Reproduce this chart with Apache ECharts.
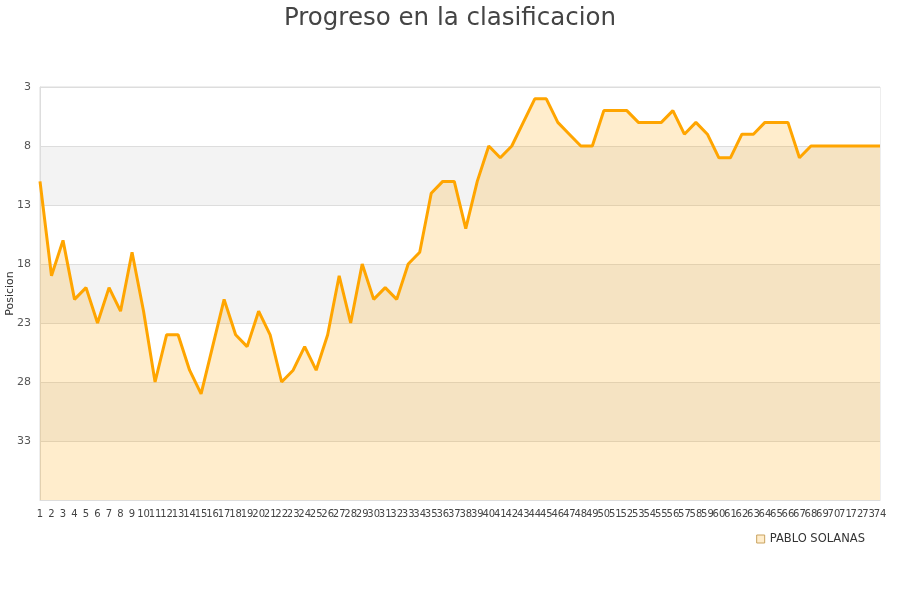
<!DOCTYPE html>
<html>
<head>
<meta charset="utf-8">
<script src="https://cdn.jsdelivr.net/npm/echarts@6/dist/echarts.min.js"></script>
<style>html,body{margin:0;padding:0;background:#fff;}#c{width:900px;height:600px;}</style>
</head>
<body>
<div id="c"></div>
<script>
const titleText = 'Progreso en la clasificacion';
const seriesName = 'PABLO SOLANAS';
const yAxisName = 'Posicion';
const jornadas = Array.from({length: 74}, (_, i) => String(i + 1));
const posiciones = [
  11, 19, 16, 21, 20, 23, 20, 22, 17, 22,
  28, 24, 24, 27, 29, 25, 21, 24, 25, 22,
  24, 28, 27, 25, 27, 24, 19, 23, 18, 21,
  20, 21, 18, 17, 12, 11, 11, 15, 11, 8,
  9, 8, 6, 4, 4, 6, 7, 8, 8, 5,
  5, 5, 6, 6, 6, 5, 7, 6, 7, 9,
  9, 7, 7, 6, 6, 6, 9, 8, 8, 8,
  8, 8, 8, 8
];

const chart = echarts.init(document.getElementById('c'), null, {renderer: 'canvas'});
chart.setOption({
  animation: false,
  backgroundColor: '#fff',
  title: {
    text: titleText,
    left: 'center',
    top: 1,
    textStyle: {fontFamily: 'DejaVu Sans', fontSize: 24.5, fontWeight: 'normal', color: '#444'}
  },
  legend: {
    data: [seriesName],
    right: 30,
    top: 528,
    icon: 'rect',
    itemWidth: 8,
    itemHeight: 8,
    itemGap: 10,
    textStyle: {fontFamily: 'DejaVu Sans', fontSize: 11.5, color: '#333'},
    itemStyle: {color: 'rgba(255,165,0,0.2)', borderColor: '#c9a25e', borderWidth: 1}
  },
  grid: {
    left: 40, right: 20, top: 87, bottom: 100,
    containLabel: false,
    outerBoundsMode: 'none',
    show: true, borderColor: '#ddd', borderWidth: 1
  },
  xAxis: {
    type: 'category',
    data: jornadas,
    boundaryGap: false,
    axisLine: {show: true, lineStyle: {color: '#ddd'}},
    axisTick: {show: false},
    axisLabel: {interval: 0, hideOverlap: false, fontFamily: 'DejaVu Sans', fontSize: 10, color: '#444', margin: 9}
  },
  yAxis: {
    type: 'value',
    inverse: true,
    min: 3,
    max: 38,
    interval: 5,
    name: yAxisName,
    nameLocation: 'middle',
    nameGap: 24,
    nameMoveOverlap: false,
    nameTextStyle: {fontFamily: 'DejaVu Sans', fontSize: 11, color: '#333'},
    axisLine: {show: true, lineStyle: {color: '#ddd'}},
    axisTick: {show: false},
    axisLabel: {showMaxLabel: false, fontFamily: 'DejaVu Sans', fontSize: 11, color: '#555', margin: 9},
    splitLine: {show: true, lineStyle: {color: '#ddd'}},
    splitArea: {show: true, areaStyle: {color: ['#ffffff', '#f3f3f3']}}
  },
  series: [{
    name: seriesName,
    type: 'line',
    data: posiciones,
    symbol: 'none',
    showSymbol: false,
    lineStyle: {color: '#ffa500', width: 3},
    itemStyle: {color: '#ffa500'},
    areaStyle: {origin: 'end', color: 'rgba(255,165,0,0.2)', opacity: 1}
  }]
});
</script>
</body>
</html>
